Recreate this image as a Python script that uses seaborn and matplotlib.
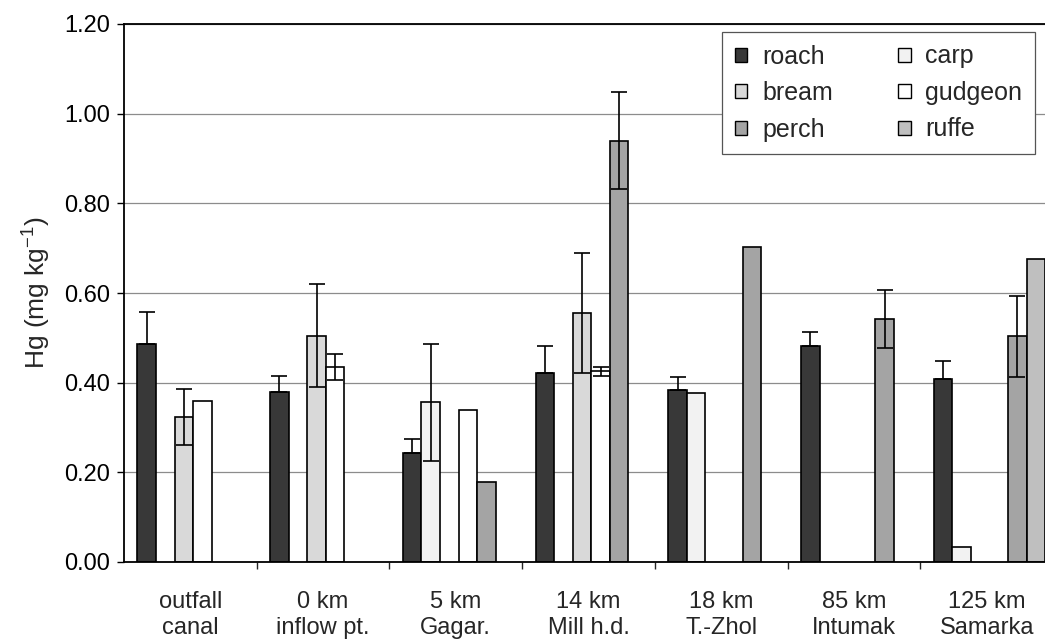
import numpy as np
import pandas as pd
import matplotlib
matplotlib.use("Agg")
import matplotlib.pyplot as plt
import seaborn as sns
from matplotlib.patches import Patch
from matplotlib.ticker import FormatStrFormatter

# ---------------- data ----------------
categories = ["outfall\ncanal", "0 km\ninflow pt.", "5 km\nGagar.", "14 km\nMill h.d.",
              "18 km\nT.-Zhol", "85 km\nIntumak", "125 km\nSamarka"]
species = ["roach", "carp", "bream", "gudgeon", "perch", "ruffe"]
nan = np.nan

roach = [0.487, 0.380, 0.243, 0.421, 0.384, 0.481, 0.408]
roach_err = [0.070, 0.034, 0.031, 0.060, 0.028, 0.032, 0.041]

carp = [nan, nan, 0.356, nan, 0.378, nan, 0.034]
carp_err = [nan, nan, 0.131, nan, nan, nan, nan]

bream = [0.324, 0.505, nan, 0.555, nan, nan, nan]
bream_err = [0.062, 0.114, nan, 0.134, nan, nan, nan]

gudgeon = [0.360, 0.436, 0.339, 0.425, nan, nan, nan]
gudgeon_err = [nan, 0.029, nan, 0.010, nan, nan, nan]

perch = [nan, nan, 0.178, 0.940, 0.702, 0.542, 0.503]
perch_err = [nan, nan, nan, 0.109, nan, 0.064, 0.090]

ruffe = [nan, nan, nan, nan, nan, nan, 0.675]
ruffe_err = [nan, nan, nan, nan, nan, nan, nan]

yticks = [0.0, 0.2, 0.4, 0.6, 0.8, 1.0, 1.2]

values = {"roach": roach, "carp": carp, "bream": bream,
          "gudgeon": gudgeon, "perch": perch, "ruffe": ruffe}
errors = {"roach": roach_err, "carp": carp_err, "bream": bream_err,
          "gudgeon": gudgeon_err, "perch": perch_err, "ruffe": ruffe_err}

rows = []
for sp in species:
    for i, cat in enumerate(categories):
        v = values[sp][i]
        if not np.isnan(v):
            rows.append({"site": cat, "species": sp, "hg": v,
                         "err": errors[sp][i], "idx": i})
df = pd.DataFrame(rows)

palette = {"roach": "#383838", "carp": "#f2f2f2", "bream": "#d9d9d9",
           "gudgeon": "#ffffff", "perch": "#a4a4a4", "ruffe": "#bfbfbf"}

# ---------------- style ----------------
sns.set_style("white")
plt.rcParams["font.family"] = ["Liberation Sans", "DejaVu Sans"]

W, H = 1045, 641
fig = plt.figure(figsize=(W / 100, H / 100), dpi=100)
ax = fig.add_axes([124 / W, (H - 562) / H, 929 / W, 538 / H])

sns.barplot(data=df, x="site", y="hg", hue="species", order=categories,
            hue_order=species, palette=palette, width=0.84, errorbar=None,
            edgecolor="black", linewidth=1.2, saturation=1, legend=False,
            ax=ax, zorder=2)

# error bars placed on the bars drawn by seaborn
for sp, cont in zip(species, ax.containers):
    sub = df[df.species == sp].sort_values("idx")
    for bar, e in zip(cont, sub["err"].values):
        if not np.isnan(e):
            # lower half is hidden inside the dark roach bars in the original
            yerr = [[0], [e]] if sp == "roach" else e
            ax.errorbar(bar.get_x() + bar.get_width() / 2, bar.get_height(),
                        yerr=yerr, fmt="none", ecolor="black", elinewidth=1.2,
                        capsize=5.5, capthick=1.2, zorder=3)

shift = 0.021
ax.set_xlim(-0.5 - shift, len(categories) - 0.5 - shift)
ax.set_xticks(np.arange(len(categories)) - shift)
ax.set_xticklabels(categories)
ax.set_xticks(np.arange(len(categories)) + 0.5 - shift, minor=True)
ax.set_xlabel("")

ax.set_ylim(0, 1.2)
ax.set_yticks(yticks)
ax.yaxis.set_major_formatter(FormatStrFormatter("%.2f"))
ax.set_ylabel("Hg (mg kg$^{\\mathregular{-1}}$)", fontsize=19, labelpad=9)

ax.set_axisbelow(True)
ax.yaxis.grid(True, color="#8c8c8c", linewidth=0.9)
ax.xaxis.grid(False)

ax.tick_params(axis="y", direction="out", length=5, width=1, labelsize=17,
               pad=5, left=True, colors="black")
ax.tick_params(axis="x", which="major", length=0, labelsize=17, pad=21)
ax.tick_params(axis="x", which="minor", direction="out", length=5, width=1,
               bottom=True)

for s in ["left", "bottom", "top"]:
    ax.spines[s].set_visible(True)
    ax.spines[s].set_color("black")
    ax.spines[s].set_linewidth(1.3)
ax.spines["right"].set_visible(False)

legend_order = ["roach", "bream", "perch", "carp", "gudgeon", "ruffe"]
handles = [Patch(facecolor=palette[s], edgecolor="black", linewidth=1.0, label=s)
           for s in legend_order]
leg = ax.legend(handles=handles, ncol=2, loc="upper right",
                bbox_to_anchor=(1035 / W, 1 - 32 / H), bbox_transform=fig.transFigure,
                fontsize=18, handlelength=0.5, handleheight=0.5,
                handletextpad=0.6, columnspacing=2.6, labelspacing=0.5,
                borderpad=0.5, borderaxespad=0, frameon=True, fancybox=False,
                edgecolor="#555555", framealpha=1)
leg.get_frame().set_linewidth(0.9)

fig.savefig("out.png", dpi=100)
